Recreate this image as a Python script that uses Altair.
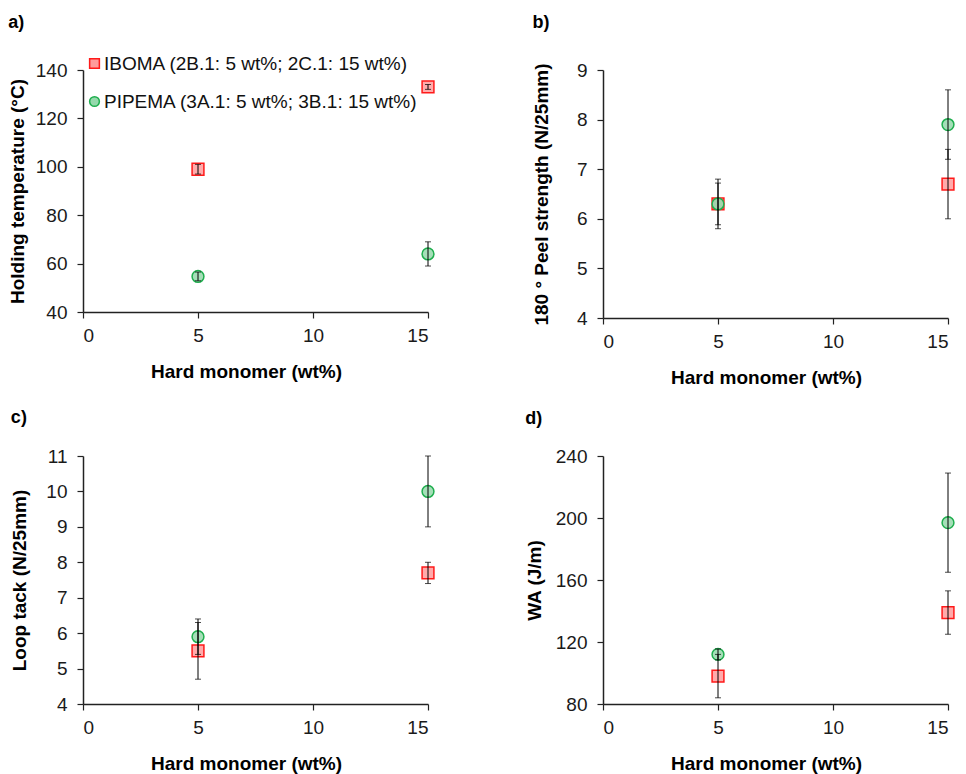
import altair as alt
import pandas as pd

# ---------------- data ----------------
series = ["IBOMA (2B.1: 5 wt%; 2C.1: 15 wt%)", "PIPEMA (3A.1: 5 wt%; 3B.1: 15 wt%)"]
wt = [5, 15]

hold_iboma = [99, 133]
hold_iboma_err = [2, 1]
hold_pipema = [54.7, 64]
hold_pipema_err = [1.8, 5]

peel_iboma = [6.3, 6.7]
peel_iboma_err = [0.5, 0.7]
peel_pipema = [6.3, 7.9]
peel_pipema_err = [0.42, 0.7]

tack_iboma = [5.5, 7.7]
tack_iboma_err = [0.8, 0.3]
tack_pipema = [5.9, 10.0]
tack_pipema_err = [0.5, 1.0]

wa_iboma = [98, 139]
wa_iboma_err = [14, 14]
wa_pipema = [112, 197]
wa_pipema_err = [3.5, 32]

x_ticks = [0, 5, 10, 15]

FONT = "Liberation Sans"
fill_colors = ["#FF9C9C", "#95D9AC"]
stroke_colors = ["#FF1A1A", "#1FAE4E"]
shapes = ["square", "circle"]


def make_df(iboma, iboma_err, pipema, pipema_err):
    rows = []
    for v, e, w in zip(iboma, iboma_err, wt):
        rows.append({"series": series[0], "wt": w, "val": v, "err": e})
    for v, e, w in zip(pipema, pipema_err, wt):
        rows.append({"series": series[1], "wt": w, "val": v, "err": e})
    return pd.DataFrame(rows)


def panel(df, label, ytitle, ydomain, yvalues, height, ytitle_pad, title_offset, with_legend=False):
    base = alt.Chart(df).transform_calculate(
        lo="datum.val - datum.err", hi="datum.val + datum.err"
    )
    x_scale = alt.Scale(domain=[0, 15], nice=False, zero=False)
    x_axis = alt.Axis(values=x_ticks, title="Hard monomer (wt%)", titleX=163,
                      labelPadding=8, titlePadding=17)
    y_scale = alt.Scale(domain=ydomain, nice=False, zero=False)
    y_axis = alt.Axis(values=yvalues, title=ytitle, labelPadding=10, titlePadding=ytitle_pad)

    if with_legend:
        leg = alt.Legend(
            orient="none", legendX=2, legendY=-16, title=None,
            labelFontSize=19, labelFont=FONT, labelColor="#111111",
            symbolSize=95, rowPadding=18, labelOffset=0, padding=0,
            symbolStrokeWidth=1.5, labelLimit=0,
        )
    else:
        leg = None

    pts = base.mark_point(filled=True, size=140, fillOpacity=0.85, strokeWidth=1.5, opacity=1).encode(
        x=alt.X("wt:Q", scale=x_scale, axis=x_axis),
        y=alt.Y("val:Q", scale=y_scale, axis=y_axis),
        fill=alt.Fill("series:N", scale=alt.Scale(domain=series, range=fill_colors), legend=leg),
        stroke=alt.Stroke("series:N", scale=alt.Scale(domain=series, range=stroke_colors), legend=leg),
        shape=alt.Shape("series:N", scale=alt.Scale(domain=series, range=shapes), legend=leg),
    )
    bars = base.mark_errorbar(color="black", thickness=1, ticks={"size": 6, "thickness": 1}).encode(
        x=alt.X("wt:Q", scale=x_scale, axis=x_axis),
        y=alt.Y("lo:Q", scale=y_scale, axis=y_axis),
        y2="hi:Q",
    )
    return alt.layer(pts, bars).properties(
        width=345,
        height=height,
        title=alt.TitleParams(label, anchor="start", frame="bounds", fontSize=18,
                              fontWeight="bold", font=FONT, offset=title_offset, color="#000000"),
    )


pa = panel(make_df(hold_iboma, hold_iboma_err, hold_pipema, hold_pipema_err),
           "a)", "Holding temperature (°C)", [40, 140], [40, 60, 80, 100, 120, 140], 242, 8, 22, True)
pb = panel(make_df(peel_iboma, peel_iboma_err, peel_pipema, peel_pipema_err),
           "b)", "180 ° Peel strength (N/25mm)", [4, 9], [4, 5, 6, 7, 8, 9], 248, 25, 29)
pc = panel(make_df(tack_iboma, tack_iboma_err, tack_pipema, tack_pipema_err),
           "c)", "Loop tack (N/25mm)", [4, 11], [4, 5, 6, 7, 8, 9, 10, 11], 248, 16, 20)
pd_ = panel(make_df(wa_iboma, wa_iboma_err, wa_pipema, wa_pipema_err),
            "d)", "WA (J/m)", [80, 240], [80, 120, 160, 200, 240], 248, 11, 19)

chart = alt.concat(pa, pb, pc, pd_, columns=2, bounds="flush",
                   spacing={"row": 138, "column": 175}).resolve_legend(
    fill="independent", stroke="independent", shape="independent").resolve_scale(
    fill="independent", stroke="independent", shape="independent").properties(
    padding={"left": 8, "top": 14, "right": 5, "bottom": 5},
    background="white",
).configure_view(stroke=None).configure_axis(
    grid=False,
    labelFont=FONT, labelFontSize=19, labelColor="#1a1a1a",
    titleFont=FONT, titleFontSize=19, titleFontWeight="bold", titleColor="#000000",
    domainColor="#222222", tickColor="#222222", tickSize=6, domainWidth=1.5, tickWidth=1.2,
)

chart.save("out.html", embed_options={"renderer": "svg", "actions": False})
